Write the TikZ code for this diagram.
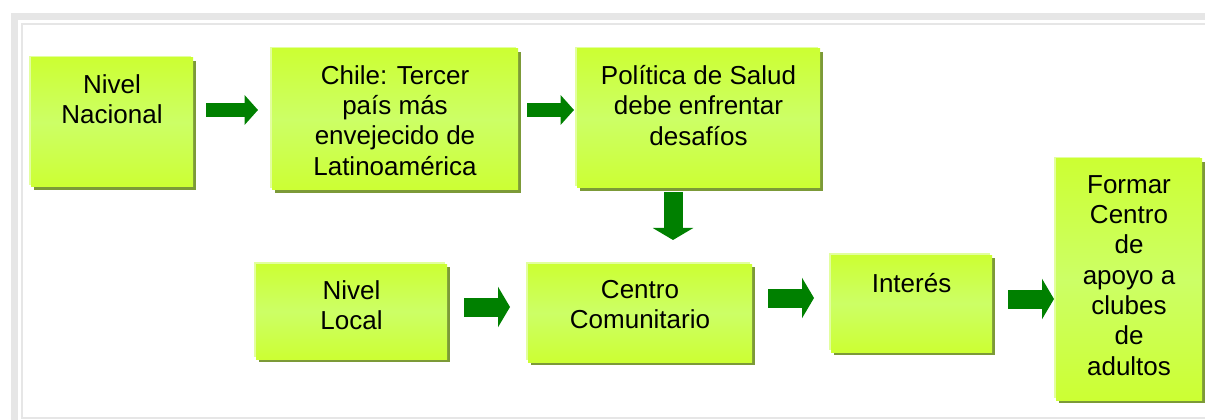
\documentclass[tikz,border=0pt]{standalone}
\usepackage{fontspec}
\setmainfont{Liberation Sans}
\usetikzlibrary{arrows.meta,shadows,calc}

\definecolor{cajaverde}{HTML}{CCFF33}
\definecolor{cajaclara}{HTML}{CCFF66}
\definecolor{cajabrillo}{HTML}{E2FF9E}
\definecolor{cajasombra}{HTML}{7C9A38}
\definecolor{flechaverde}{HTML}{008000}
\definecolor{marcogris}{HTML}{E6E6E6}

\tikzset{every picture/.style={line width=0.75pt}}
\tikzset{
  caja/.style={anchor=north west, inner sep=0pt, outer sep=0pt,
    top color=cajaverde, bottom color=cajaverde, middle color=cajaclara,
    general shadow={shadow xshift=-1.5pt, shadow yshift=1.5pt, fill=cajabrillo},
    drop shadow={shadow xshift=2.25pt, shadow yshift=-2.25pt, fill=cajasombra, opacity=1}},
  texto/.style={anchor=north, align=center, inner sep=0pt,
    font=\fontsize{19.5}{22.75}\selectfont, execute at begin node=\strut},
  flecha/.style={flechaverde, line width=14.25pt, -{Triangle[width=30pt,length=9pt]}},
  flechita/.style={flechaverde, line width=11pt, -{Triangle[width=21.75pt,length=10pt]}}
}

\begin{document}
\begin{tikzpicture}[x=0.75pt,y=0.75pt,yscale=-1,xscale=1]
\useasboundingbox (0,0) rectangle (1205,420);

%Frame
\draw [marcogris, line width=5.25pt] (14.5,420) -- (14.5,16.5) -- (1205,16.5) ;
\draw [marcogris, line width=1.125pt] (1206,418) -- (22,418) -- (22,24) -- (1206,24) ;

%Upper row
\node [caja, minimum width=121.5pt, minimum height=96.75pt] (nac) at (31,58) {};
\node [caja, minimum width=184.5pt, minimum height=105.75pt] (chile) at (272,49) {};
\node [caja, minimum width=182.25pt, minimum height=104.25pt] (pol) at (577,49) {};
%Lower row
\node [caja, minimum width=143.25pt, minimum height=71.25pt] (loc) at (256,264) {};
\node [caja, minimum width=168pt, minimum height=73.5pt] (cen) at (528,264) {};
\node [caja, minimum width=120.75pt, minimum height=72.75pt] (int) at (831,255) {};
\node [caja, minimum width=109.5pt, minimum height=180.75pt] (form) at (1056,159) {};

% Text Node
\node [texto] (nactxt) at ($(nac.north)+(0,15.8)$) {Nivel\\Nacional};
\node [texto] (chiletxt) at ($(chile.north)+(0,15.8)$) {Chile: Tercer\\país más\\envejecido de\\Latinoamérica};
\node [texto] (poltxt) at ($(pol.north)+(0,15.8)$) {Política de Salud\\debe enfrentar\\desafíos};
\node [texto] (loctxt) at ($(loc.north)+(0,15.8)$) {Nivel\\Local};
\node [texto] (centxt) at ($(cen.north)+(0,15.8)$) {Centro\\Comunitario};
\node [texto] (inttxt) at ($(int.north)+(0,15.8)$) {Interés};
\node [texto] (formtxt) at ($(form.north)+(0,15.8)$) {Formar\\Centro\\de\\apoyo a\\clubes\\de\\adultos};

%Arrows
\draw [flechita, shorten <=9.75pt, shorten >=10.5pt] (nac.east |- 0,110) -- (chile.west |- 0,110) ;
\draw [flechita, shorten <=6.75pt, shorten >=2.25pt] (chile.east |- 0,110) -- (pol.west |- 0,110) ;
\draw [flecha, shorten <=3pt, shorten >=18pt] (pol.south -| 673,0) -- (cen.north -| 673,0) ;
\draw [flecha, shorten <=12.75pt, shorten >=13.5pt] (loc.east |- 0,307) -- (cen.west |- 0,307) ;
\draw [flecha, shorten <=12pt, shorten >=12.75pt] (cen.east |- 0,298) -- (int.west |- 0,298) ;
\draw [flecha, shorten <=12pt, shorten >=1.5pt] (int.east |- 0,299) -- (form.west |- 0,299) ;

\end{tikzpicture}
\end{document}
